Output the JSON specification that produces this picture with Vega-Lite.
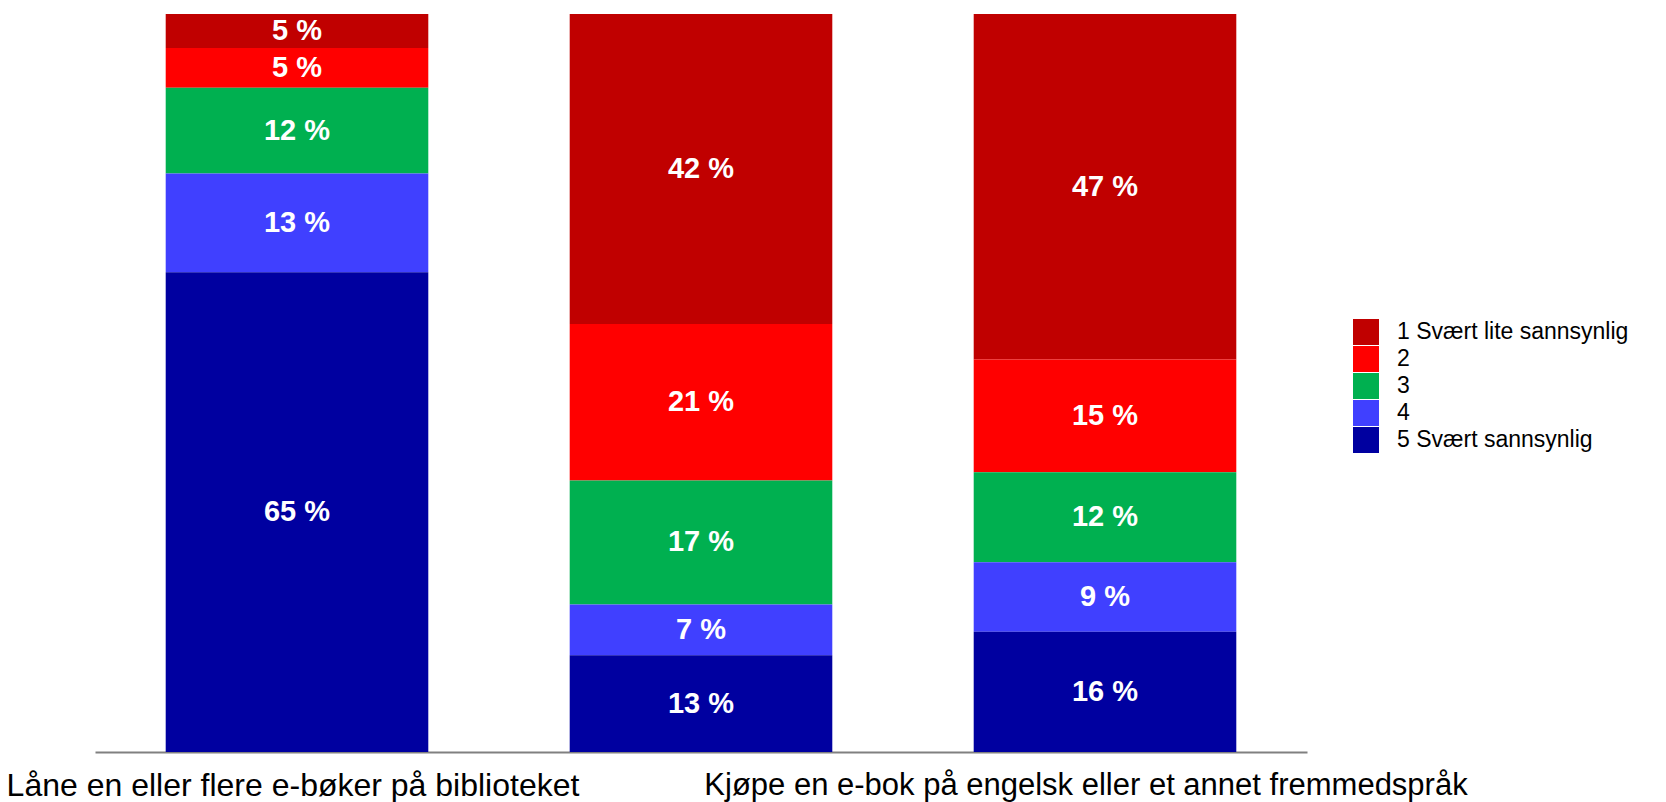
{
  "$schema": "https://vega.github.io/schema/vega-lite/v6.json",
  "width": 1212,
  "height": 738,
  "autosize": {"type": "none"},
  "padding": {"left": 95, "top": 14, "right": 359, "bottom": 50},
  "background": "white",
  "config": {"view": {"stroke": null}, "font": "Liberation Sans"},
  "data": {"values": [
    {"bar": 1, "rank": 1, "category": "1 Svært lite sannsynlig", "value": 4.6},
    {"bar": 1, "rank": 2, "category": "2", "value": 5.4},
    {"bar": 1, "rank": 3, "category": "3", "value": 11.6},
    {"bar": 1, "rank": 4, "category": "4", "value": 13.4},
    {"bar": 1, "rank": 5, "category": "5 Svært sannsynlig", "value": 65.0},
    {"bar": 2, "rank": 1, "category": "1 Svært lite sannsynlig", "value": 42.0},
    {"bar": 2, "rank": 2, "category": "2", "value": 21.2},
    {"bar": 2, "rank": 3, "category": "3", "value": 16.8},
    {"bar": 2, "rank": 4, "category": "4", "value": 6.9},
    {"bar": 2, "rank": 5, "category": "5 Svært sannsynlig", "value": 13.1},
    {"bar": 3, "rank": 1, "category": "1 Svært lite sannsynlig", "value": 46.8},
    {"bar": 3, "rank": 2, "category": "2", "value": 15.3},
    {"bar": 3, "rank": 3, "category": "3", "value": 12.2},
    {"bar": 3, "rank": 4, "category": "4", "value": 9.4},
    {"bar": 3, "rank": 5, "category": "5 Svært sannsynlig", "value": 16.3}
  ]},
  "encoding": {
    "x": {
      "field": "bar",
      "type": "ordinal",
      "scale": {"paddingInner": 0.35, "paddingOuter": 0.175},
      "axis": {
        "title": null,
        "domain": true,
        "domainColor": "#808080",
        "domainWidth": 2,
        "ticks": false,
        "grid": false,
        "labelAngle": 0,
        "labelFontSize": {"condition": {"test": "datum.value == 3", "value": 31}, "value": 32},
        "labelColor": "black",
        "labelPadding": 18,
        "labelLimit": 0,
        "labelOverlap": false,
        "labelBound": false,
        "labelFlush": false,
        "labelOffset": {"condition": {"test": "datum.value == 3", "value": -19}, "value": -4},
        "labelExpr": "datum.value == 1 ? 'Låne en eller flere e-bøker på biblioteket' : (datum.value == 3 ? 'Kjøpe en e-bok på engelsk eller et annet fremmedspråk' : '')"
      }
    }
  },
  "layer": [
    {
      "mark": {"type": "bar"},
      "encoding": {
        "y": {"field": "value", "type": "quantitative", "stack": "zero", "scale": {"domain": [0, 100]}, "axis": null},
        "color": {
          "field": "category",
          "type": "nominal",
          "scale": {
            "domain": ["1 Svært lite sannsynlig", "2", "3", "4", "5 Svært sannsynlig"],
            "range": ["#C00000", "#FF0000", "#00B050", "#4040FF", "#0000A0"]
          },
          "legend": {
            "orient": "none",
            "legendX": 1258,
            "legendY": 305,
            "title": null,
            "symbolType": "square",
            "symbolSize": 676,
            "symbolStrokeWidth": 0,
            "symbolOpacity": 1,
            "labelFontSize": 23,
            "labelColor": "black",
            "labelOffset": 18,
            "labelLimit": 0,
            "rowPadding": 1,
            "padding": 0
          }
        },
        "order": {"field": "rank", "sort": "descending"}
      }
    },
    {
      "transform": [
        {"stack": "value", "groupby": ["bar"], "sort": [{"field": "rank", "order": "descending"}], "as": ["v0", "v1"]},
        {"calculate": "(datum.v0 + datum.v1) / 2", "as": "mid"},
        {"calculate": "format(datum.value, '.0f') + ' %'", "as": "label"}
      ],
      "mark": {"type": "text", "color": "white", "fontWeight": "bold", "fontSize": 29, "baseline": "middle", "align": "center"},
      "encoding": {
        "y": {"field": "mid", "type": "quantitative", "scale": {"domain": [0, 100]}, "axis": null},
        "text": {"field": "label", "type": "nominal"}
      }
    }
  ]
}
